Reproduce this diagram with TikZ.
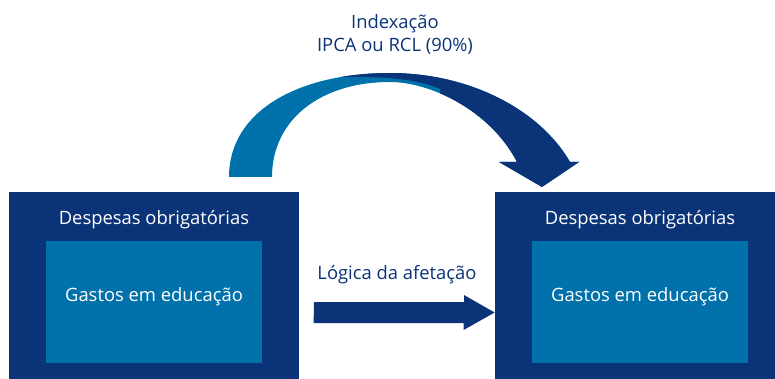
\documentclass[tikz,border=0pt]{standalone}
\usepackage{fontspec}
\setmainfont{Open Sans}
\usepackage{xcolor}
\definecolor{escuro}{RGB}{10,51,120}
\definecolor{claro}{RGB}{0,113,171}

\begin{document}
\begin{tikzpicture}[x=0.5pt,y=-0.5pt,
		caixa/.style={fill=escuro,inner sep=0pt,minimum height=93.5pt},
		miolo/.style={fill=claro,inner sep=0pt,minimum width=108pt,minimum height=61pt},
		branco/.style={text=white,font=\fontsize{9.2}{11}\selectfont},
		rotulo/.style={text=escuro,align=center,font=\fontsize{9.2}{11.5}\selectfont}]
		\useasboundingbox (0,0) rectangle (775,379);
		
		%curved arrow (light part)
		\fill[claro] (229,177) .. controls (229,110) and (300,73) .. (390,73) .. controls (470,73) and (540,110) .. (570,162) -- (579,162) -- (542,187) -- (499,162) -- (517,162) .. controls (490,110) and (430,82) .. (390,82) .. controls (320,82) and (272,120) .. (272,177) -- cycle;
		%curved arrow (dark part)
		\begin{scope}
			\clip (339,77) .. controls (390,76) and (420,80) .. (440,89) -- (440,250) -- (640,250) -- (640,0) -- (339,0) -- cycle;
			\fill[escuro] (229,177) .. controls (229,110) and (300,73) .. (390,73) .. controls (470,73) and (540,110) .. (570,162) -- (579,162) -- (542,187) -- (499,162) -- (517,162) .. controls (490,110) and (430,82) .. (390,82) .. controls (320,82) and (272,120) .. (272,177) -- cycle;
		\end{scope}
		\node[rotulo] (idx) at (395,34) {Indexação\\IPCA ou RCL (90\%)};
		
		%boxes
		\node[caixa,minimum width=145pt] (esq) at (154,285.5) {};
		\node[caixa,minimum width=140pt] (dir) at (635,285.5) {};
		\node[miolo] (esqin) at (154,302) {};
		\node[miolo] (dirin) at (640,302) {};
		\node[branco] (esqtit) at (154,220) {Despesas obrigatórias};
		\node[branco] (dirtit) at (640,220) {Despesas obrigatórias};
		\node[branco] (esqtxt) at (154,297) {Gastos em educação};
		\node[branco] (dirtxt) at (640,297) {Gastos em educação};
		
		%straight arrow
		\coordinate (ini) at (314,312.5);
		\coordinate (fim) at (dir.west |- ini);
		\fill[escuro] (ini) ++(0,-10.5) -- ++(150,0) -- ++(0,-7) -- (fim) -- ++(-31,17.5) -- ++(0,-7) -- ++(-150,0) -- cycle;
		\node[rotulo] (afet) at (397,275) {Lógica da afetação};
		
\end{tikzpicture}
\end{document}
